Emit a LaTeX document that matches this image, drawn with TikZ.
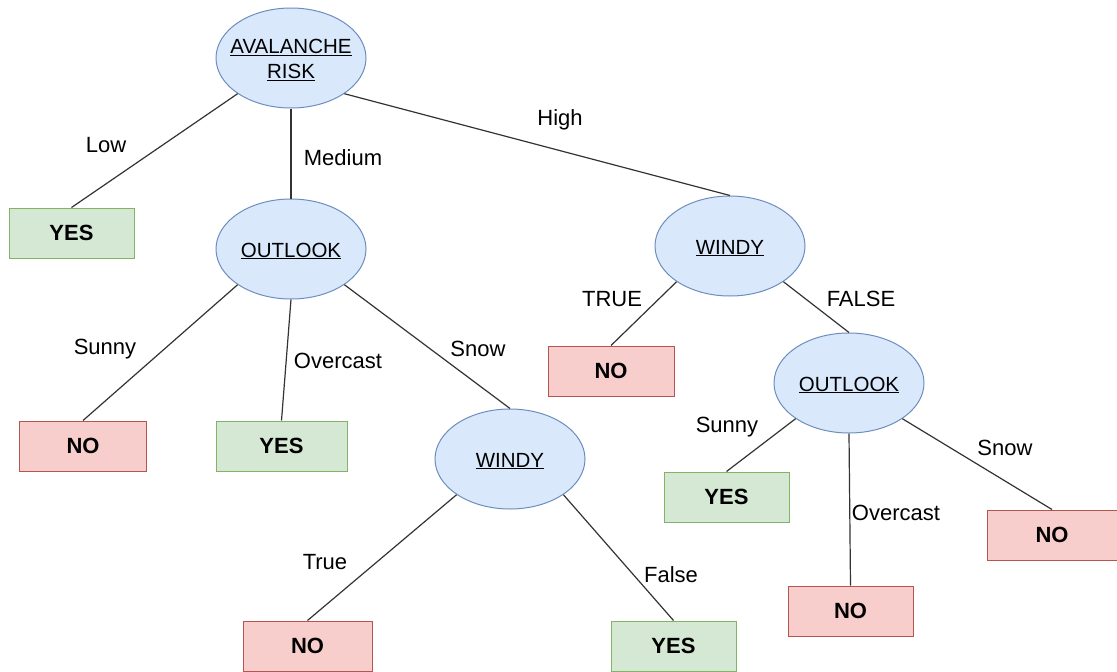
\documentclass[tikz,border=0pt]{standalone}
\usepackage{fontspec}
\setmainfont{Liberation Sans}
\usetikzlibrary{shapes.geometric}
\definecolor{qfill}{HTML}{DAE8FC}\definecolor{qline}{HTML}{6C8EBF}
\definecolor{yfill}{HTML}{D5E8D4}\definecolor{yline}{HTML}{82B366}
\definecolor{nfill}{HTML}{F8CECC}\definecolor{nline}{HTML}{B85450}
\begin{document}
\begin{tikzpicture}[x=1pt,y=-1pt,
  font=\fontsize{22}{25}\selectfont,
  question/.style={ellipse,draw=qline,fill=qfill,line width=1pt,
    minimum width=150pt,minimum height=100pt,inner sep=0pt,align=center},
  qtext/.style={inner sep=0pt,align=center,yshift=-2pt,
    font=\fontsize{20.5}{24}\selectfont},
  yesbox/.style={rectangle,draw=yline,fill=yfill,line width=1pt,
    minimum width=125pt,minimum height=50pt,font=\fontsize{22}{25}\selectfont\bfseries},
  nobox/.style={rectangle,draw=nline,fill=nfill,line width=1pt,
    minimum width=127pt,minimum height=50pt,font=\fontsize{22}{25}\selectfont\bfseries},
  edge/.style={draw=black!80,line width=1.2pt},
  lbl/.style={inner sep=0pt}]
\useasboundingbox (0,0) rectangle (1117,672);
% decision nodes (ellipse outline, then its caption)
\node[question] (risk) at (291,58) {};
\node[qtext] (riskText) at (risk.center) {\underline{AVALANCHE}\\[1pt]\underline{RISK}};
\node[question] (out1) at (291,249) {};
\node[qtext] (out1Text) at (out1.center) {\underline{OUTLOOK}};
\node[question] (wind1) at (730,246) {};
\node[qtext] (wind1Text) at (wind1.center) {\underline{WINDY}};
\node[question] (wind2) at (510,459) {};
\node[qtext] (wind2Text) at (wind2.center) {\underline{WINDY}};
\node[question] (out2) at (849,383) {};
\node[qtext] (out2Text) at (out2.center) {\underline{OUTLOOK}};
% leaves
\node[yesbox] (y1) at (71.5,233) {YES};
\node[nobox] (n1) at (83,446) {NO};
\node[yesbox,minimum width=131pt] (y2) at (281.5,446) {YES};
\node[nobox,minimum width=129pt] (n2) at (307.5,646) {NO};
\node[yesbox] (y3) at (673.5,646) {YES};
\node[nobox,minimum width=126pt] (n3) at (611,371) {NO};
\node[yesbox] (y4) at (726.5,497) {YES};
\node[nobox,minimum width=125pt] (n4) at (850.5,611) {NO};
\node[nobox,minimum width=130pt] (n5) at (1052,535) {NO};
% branches
\draw[edge] (risk.south west) -- (y1.north);
\draw[edge] (risk.south) -- (out1.north);
\draw[edge] (risk.south east) -- (wind1.north);
\draw[edge] (out1.south west) -- (n1.north);
\draw[edge] (out1.south) -- (y2.north);
\draw[edge] (out1.south east) -- (wind2.north);
\draw[edge] (wind2.south west) -- (n2.north);
\draw[edge] (wind2.south east) -- (y3.north);
\draw[edge] (wind1.south west) -- (n3.north);
\draw[edge] (wind1.south east) -- (out2.north);
\draw[edge] (out2.south west) -- (y4.north);
\draw[edge] (out2.south) -- (n4.north);
\draw[edge] (out2.south east) -- (n5.north);
% branch labels
\node[lbl] (lLow) at (106,145) {Low};
\node[lbl] (lMed) at (343,158) {Medium};
\node[lbl] (lHigh) at (560,120) {High};
\node[lbl] (lT1) at (612,299) {TRUE};
\node[lbl] (lF1) at (861,299) {FALSE};
\node[lbl] (lS1) at (105,349) {Sunny};
\node[lbl] (lO1) at (338,361) {Overcast};
\node[lbl] (lSn1) at (478,349) {Snow};
\node[lbl] (lT2) at (325,562) {True};
\node[lbl] (lF2) at (671,575) {False};
\node[lbl] (lS2) at (727,427) {Sunny};
\node[lbl] (lO2) at (896,513) {Overcast};
\node[lbl] (lSn2) at (1005,448) {Snow};
\end{tikzpicture}
\end{document}
